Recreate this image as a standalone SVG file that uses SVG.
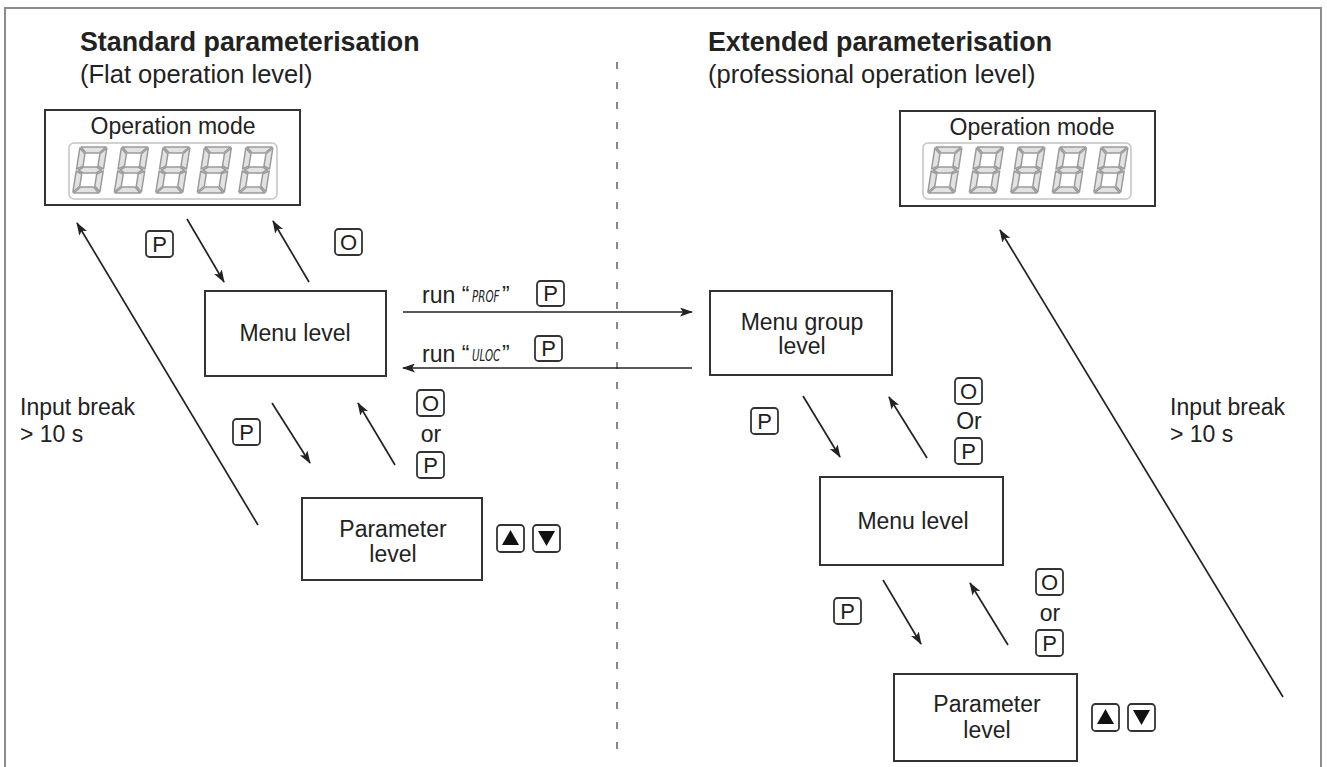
<svg xmlns="http://www.w3.org/2000/svg" xmlns:xlink="http://www.w3.org/1999/xlink" width="1327" height="767" viewBox="0 0 1327 767">
<style>
text{font-family:"Liberation Sans",Arial,sans-serif;fill:#222}
.title{font-size:26.8px;font-weight:bold}
.sub{font-size:25.5px}
.lbl{font-size:23px}
.mid{text-anchor:middle}
.box{fill:#fff;stroke:#333;stroke-width:2}
.key{fill:#fff;stroke:#333;stroke-width:1.8}
.kt{font-size:22px;text-anchor:middle}
.con{stroke:#222;stroke-width:1.7;fill:none}
.seg{fill:#e2e2e2;stroke:#9a9a9a;stroke-width:1.5;stroke-linejoin:round}
.disp{fill:none;stroke:#c4c4c4;stroke-width:1.5}
.lcd{font-family:"DejaVu Sans Condensed","DejaVu Sans",sans-serif;font-style:italic;font-size:11.5px}
</style>
<defs>
<marker id="ah" markerWidth="13" markerHeight="9" refX="12" refY="4.5" orient="auto" markerUnits="userSpaceOnUse">
<path d="M0,0 L13,4.5 L0,9 L3,4.5 z" fill="#222"/>
</marker>
<g id="digit" transform="skewX(-9)">
<polygon class="seg" points="1,0 26,0 20,6 7,6"/>
<polygon class="seg" points="2,23 7,20 20,20 25,23 20,26 7,26"/>
<polygon class="seg" points="1,46 26,46 20,40 7,40"/>
<polygon class="seg" points="0,1 6,7 6,19 0,22"/>
<polygon class="seg" points="0,24 6,27 6,39 0,45"/>
<polygon class="seg" points="27,1 21,7 21,19 27,22"/>
<polygon class="seg" points="27,24 21,27 21,39 27,45"/>
</g>
<g id="digits">
<use xlink:href="#digit" x="0"/>
<use xlink:href="#digit" x="41.5"/>
<use xlink:href="#digit" x="83"/>
<use xlink:href="#digit" x="124.5"/>
<use xlink:href="#digit" x="166"/>
</g>
</defs>
<rect width="1327" height="767" fill="#fff"/>
<path d="M5,780 V8 H1321 V780" fill="none" stroke="#8c8c8c" stroke-width="2"/>
<line x1="617" y1="62" x2="617" y2="755" stroke="#888" stroke-width="2" stroke-dasharray="7 13"/>

<g id="titles">
<text class="title" x="80" y="51">Standard parameterisation</text>
<text class="sub" x="80" y="83">(Flat operation level)</text>
<text class="title" x="708" y="51">Extended parameterisation</text>
<text class="sub" x="708" y="83">(professional operation level)</text>
</g>

<g id="connectors">
<line class="con" x1="258" y1="525" x2="77" y2="223" marker-end="url(#ah)"/>
<line class="con" x1="187" y1="219" x2="224" y2="282" marker-end="url(#ah)"/>
<line class="con" x1="309" y1="282" x2="273" y2="221" marker-end="url(#ah)"/>
<line class="con" x1="403" y1="312" x2="692" y2="312" marker-end="url(#ah)"/>
<line class="con" x1="692" y1="368" x2="403" y2="368" marker-end="url(#ah)"/>
<line class="con" x1="272" y1="403" x2="310" y2="463" marker-end="url(#ah)"/>
<line class="con" x1="395" y1="465" x2="358" y2="403" marker-end="url(#ah)"/>
<line class="con" x1="803" y1="396" x2="840" y2="457" marker-end="url(#ah)"/>
<line class="con" x1="927" y1="458" x2="889" y2="397" marker-end="url(#ah)"/>
<line class="con" x1="883" y1="580" x2="921" y2="644" marker-end="url(#ah)"/>
<line class="con" x1="1008" y1="645" x2="970" y2="583" marker-end="url(#ah)"/>
<line class="con" x1="1283" y1="697" x2="1000" y2="230" marker-end="url(#ah)"/>
</g>

<g id="display-left">
<rect class="box" x="45" y="110" width="255" height="95"/>
<text class="lbl mid" x="173" y="134">Operation mode</text>
<rect class="disp" x="69" y="143" width="208" height="56" rx="5"/>
<use xlink:href="#digits" x="80" y="147"/>
</g>

<g id="display-right">
<rect class="box" x="900" y="111" width="255" height="95"/>
<text class="lbl mid" x="1032" y="135">Operation mode</text>
<rect class="disp" x="923" y="143" width="208" height="56" rx="5"/>
<use xlink:href="#digits" x="935" y="147"/>
</g>

<g id="menu-left">
<rect class="box" x="205" y="291" width="181" height="85"/>
<text class="lbl mid" x="295" y="341">Menu level</text>
</g>

<g id="param-left">
<rect class="box" x="302" y="498" width="180" height="82"/>
<text class="lbl mid" x="393" y="537">Parameter</text>
<text class="lbl mid" x="393" y="562">level</text>
</g>

<g id="menugroup-right">
<rect class="box" x="710" y="291" width="182" height="84"/>
<text class="lbl mid" x="802" y="330">Menu group</text>
<text class="lbl mid" x="802" y="354">level</text>
</g>

<g id="menu-right">
<rect class="box" x="820" y="477" width="183" height="88"/>
<text class="lbl mid" x="913" y="529">Menu level</text>
</g>

<g id="param-right">
<rect class="box" x="894" y="674" width="183" height="87"/>
<text class="lbl mid" x="987" y="712">Parameter</text>
<text class="lbl mid" x="987" y="738">level</text>
</g>

<g id="labels">
<text class="lbl" x="20" y="415">Input break</text>
<text class="lbl" x="20" y="442">&gt; 10 s</text>
<text class="lbl" x="1170" y="415">Input break</text>
<text class="lbl" x="1170" y="442">&gt; 10 s</text>
<text class="lbl" x="422" y="303">run “</text>
<text class="lcd" transform="translate(472,302) scale(1,1.4)">PROF</text>
<text class="lbl" x="502" y="303">”</text>
<text class="lbl" x="422" y="362">run “</text>
<text class="lcd" transform="translate(472,361) scale(1,1.4)">ULOC</text>
<text class="lbl" x="502" y="362">”</text>
<text class="lbl mid" x="431" y="442">or</text>
<text class="lbl mid" x="969" y="429">Or</text>
<text class="lbl mid" x="1050" y="621">or</text>
</g>

<g id="keys">
<rect class="key" x="146" y="231" width="27" height="26" rx="3.5"/><text class="kt" x="159.5" y="252">P</text>
<rect class="key" x="335" y="229" width="27" height="26" rx="3.5"/><text class="kt" x="348.5" y="250">O</text>
<rect class="key" x="537" y="281" width="27" height="25" rx="3.5"/><text class="kt" x="550.5" y="301">P</text>
<rect class="key" x="535" y="336" width="27" height="25" rx="3.5"/><text class="kt" x="548.5" y="356">P</text>
<rect class="key" x="233" y="419" width="27" height="26" rx="3.5"/><text class="kt" x="246.5" y="440">P</text>
<rect class="key" x="417" y="390" width="27" height="26" rx="3.5"/><text class="kt" x="430.5" y="411">O</text>
<rect class="key" x="417" y="452" width="27" height="26" rx="3.5"/><text class="kt" x="430.5" y="473">P</text>
<rect class="key" x="497" y="525" width="27" height="27" rx="3.5"/><polygon points="502,545 519,545 510.5,530" fill="#111"/>
<rect class="key" x="533" y="525" width="27" height="27" rx="3.5"/><polygon points="538,531 555,531 546.5,546" fill="#111"/>
<rect class="key" x="751" y="408" width="27" height="26" rx="3.5"/><text class="kt" x="764.5" y="429">P</text>
<rect class="key" x="955" y="378" width="27" height="26" rx="3.5"/><text class="kt" x="968.5" y="399">O</text>
<rect class="key" x="955" y="438" width="27" height="26" rx="3.5"/><text class="kt" x="968.5" y="459">P</text>
<rect class="key" x="834" y="598" width="27" height="26" rx="3.5"/><text class="kt" x="847.5" y="619">P</text>
<rect class="key" x="1036" y="569" width="27" height="26" rx="3.5"/><text class="kt" x="1049.5" y="590">O</text>
<rect class="key" x="1036" y="630" width="27" height="26" rx="3.5"/><text class="kt" x="1049.5" y="651">P</text>
<rect class="key" x="1092" y="704" width="27" height="27" rx="3.5"/><polygon points="1097,724 1114,724 1105.5,709" fill="#111"/>
<rect class="key" x="1128" y="704" width="27" height="27" rx="3.5"/><polygon points="1133,710 1150,710 1141.5,725" fill="#111"/>
</g>
</svg>
